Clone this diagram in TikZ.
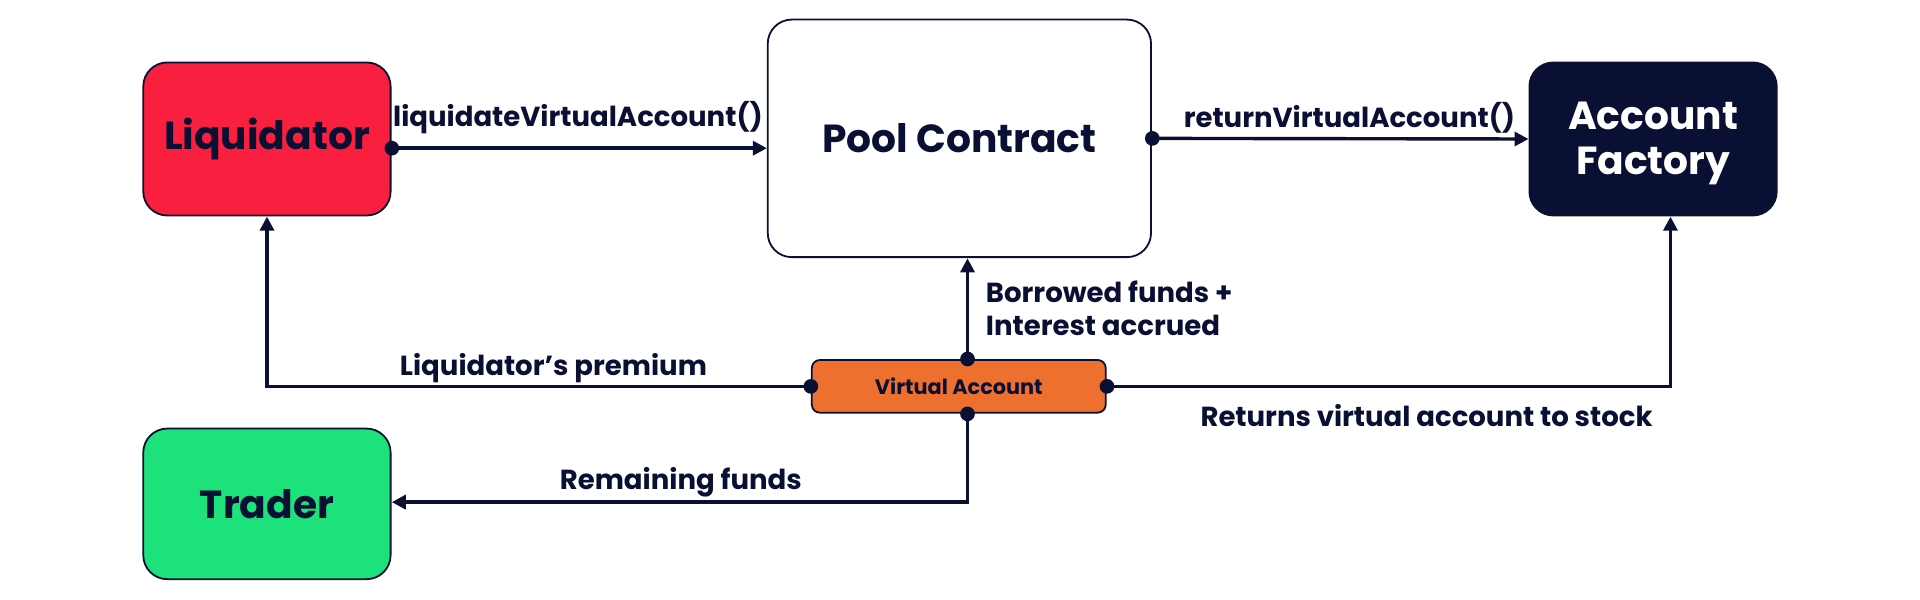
\documentclass[tikz,border=0pt]{standalone}
\usepackage{fontspec}
\setmainfont{Poppins}
\usetikzlibrary{arrows.meta}
\definecolor{navy}{HTML}{0A1033}
\definecolor{lred}{HTML}{F91F3F}
\definecolor{tgreen}{HTML}{1DE17B}
\definecolor{vorange}{HTML}{EE702E}
\begin{document}
\begin{tikzpicture}[x=1pt,y=-1pt,scale=1.2245,every node/.append style={transform shape},
  box/.style={draw=navy,line width=1.8pt,rounded corners=24pt,inner sep=0pt,
    font=\fontsize{32}{37}\selectfont\bfseries,text=navy,align=center},
  conn/.style={draw=navy,line width=3.4pt},
  arr/.style={conn,-{Triangle[length=14pt,width=14pt]}},
  dotc/.style={circle,fill=navy,inner sep=0pt,minimum size=12pt},
  lbl/.style={font=\fontsize{22.5}{27}\selectfont\bfseries,text=navy,inner sep=0pt}]
\useasboundingbox (0,0) rectangle (1568,490);
\node[box,fill=lred,minimum width=202pt,minimum height=125pt] (liq) at (218,113.5) {Liquidator};
\node[box,fill=white,minimum width=313pt,minimum height=194pt] (pool) at (783.5,113) {Pool Contract};
\node[box,fill=navy,minimum width=202pt,minimum height=125pt] (fac) at (1350,113.5) {};
\node[font=\fontsize{32}{37}\selectfont\bfseries,text=white,align=center,inner sep=0pt] (factxt) at (1350,117) {Account\\Factory};
\node[box,fill=tgreen,minimum width=202pt,minimum height=123pt] (tra) at (218,411.5) {Trader};
\node[box,fill=vorange,rounded corners=8pt,minimum width=240pt,minimum height=43pt,
  font=\fontsize{17}{20}\selectfont\bfseries] (va) at (783,315.5) {Virtual Account};
% connectors
\coordinate (liqR) at (liq.east |- 0,121);
\coordinate (poolL) at (pool.west |- 0,121);
\draw[arr] (liqR) -- (poolL);
\node[dotc] at (liqR) {};
\node[lbl,anchor=base] at (472,103) {liquidateVirtualAccount()};
\draw[arr] (pool.east) -- (fac.west);
\node[dotc] at (pool.east) {};
\node[lbl,anchor=base] at (1102,104) {returnVirtualAccount()};
\coordinate (vaT) at (va.north -| 790,0);
\coordinate (poolB) at (pool.south -| 790,0);
\draw[arr] (vaT) -- (poolB);
\node[dotc] at (vaT) {};
\node[lbl,anchor=north west,align=left] at (805,229) {Borrowed funds +\\Interest accrued};
\draw[arr] (va.west) -| (liq.south);
\node[dotc] at (va.west) {};
\node[lbl,anchor=base] at (452,307) {Liquidator’s premium};
\coordinate (facB) at (fac.south -| 1364,0);
\draw[arr] (va.east) -| (facB);
\node[dotc] at (va.east) {};
\node[lbl,anchor=base] at (1165,348) {Returns virtual account to stock};
\coordinate (vaB) at (va.south -| 790,0);
\coordinate (turn) at (790,410);
\draw[arr] (vaB) -- (turn) -- (tra.east |- turn);
\node[dotc] at (vaB) {};
\node[lbl,anchor=base] at (556,400) {Remaining funds};
\end{tikzpicture}
\end{document}
